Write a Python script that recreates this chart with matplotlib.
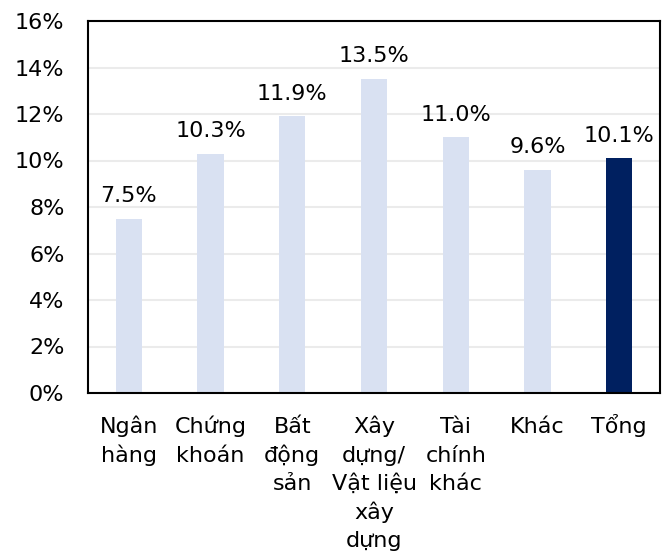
import matplotlib
matplotlib.use("Agg")
import matplotlib.pyplot as plt
import numpy as np

categories = ["Ngân\nhàng", "Chứng\nkhoán", "Bất\nđộng\nsản", "Xây\ndựng/\nVật liệu\nxây\ndựng",
              "Tài\nchính\nkhác", "Khác", "Tổng"]
values = [7.5, 10.3, 11.9, 13.5, 11.0, 9.6, 10.1]
labels = ["7.5%", "10.3%", "11.9%", "13.5%", "11.0%", "9.6%", "10.1%"]
yticks = [0, 2, 4, 6, 8, 10, 12, 14, 16]
ytick_labels = ["0%", "2%", "4%", "6%", "8%", "10%", "12%", "14%", "16%"]

plt.rcParams['font.family'] = ['DejaVu Sans']
fig = plt.figure(figsize=(6.7, 5.56), dpi=100)
ax = fig.add_axes([88/670, 1-393/556, (660-88)/670, (393-21)/556])

FS = 16
x = np.arange(len(categories))
colors = ["#D9E1F2"] * (len(categories) - 1) + ["#002060"]
ax.bar(x, values, width=0.32, color=colors, zorder=2)
for xi, v, lab in zip(x, values, labels):
    ax.annotate(lab, xy=(xi, v), xytext=(0, 12), textcoords="offset points",
                ha="center", va="baseline", fontsize=FS, color="#000000")

ax.set_xlim(-0.5, len(categories) - 0.5)
ax.set_ylim(0, 16)
ax.set_yticks(yticks)
ax.set_yticklabels(ytick_labels, fontsize=FS)
ax.set_xticks(x)
ax.set_xticklabels([""] * len(categories))
# category labels, one line at a time so all first lines share a baseline
first_off = 28.8
line_step = 20.6
for xi, cat in zip(x, categories):
    for i, line in enumerate(cat.split("\n")):
        ax.annotate(line, xy=(xi, 0), xycoords=("data", "axes fraction"),
                    xytext=(0, -(first_off + i * line_step)), textcoords="offset points",
                    ha="center", va="baseline", fontsize=FS, color="#000000",
                    annotation_clip=False)
ax.tick_params(axis="both", length=0)
ax.tick_params(axis="y", pad=17)
for lab in ax.get_yticklabels():
    lab.set_horizontalalignment("right")
ax.yaxis.grid(True, color="#EBEBEB", linewidth=1.5, zorder=0)
ax.set_axisbelow(True)
for s in ax.spines.values():
    s.set_color("black")
    s.set_linewidth(1.5)

fig.savefig("out.png", dpi=100)
